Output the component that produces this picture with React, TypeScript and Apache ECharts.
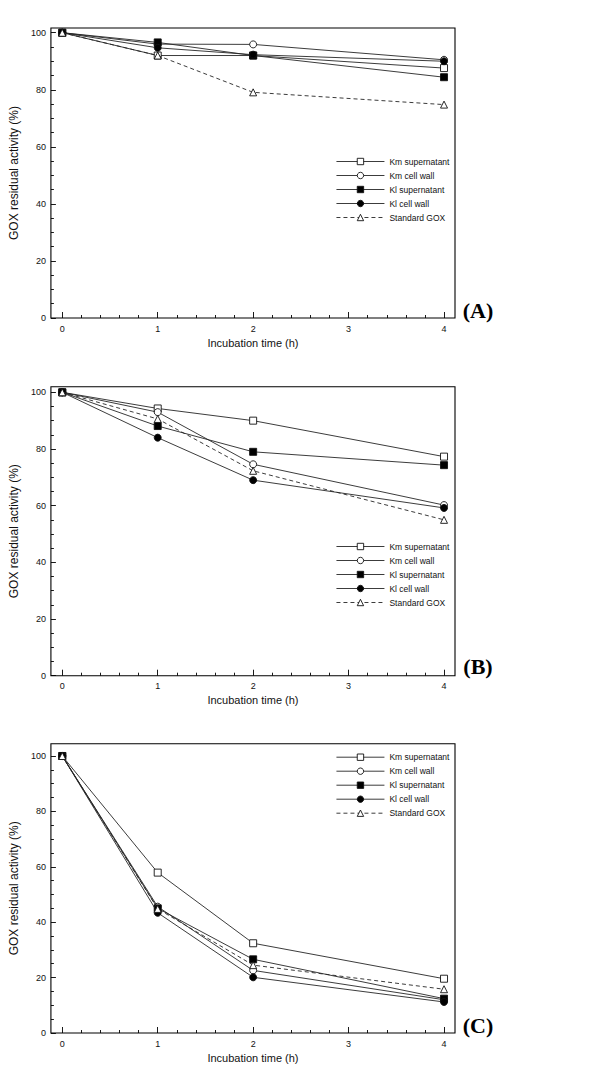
import React, { useEffect, useRef } from "react";
import * as echarts from "echarts";

// ---- data ----
const hours = [0, 1, 2, 4];
const seriesNames = ["Km supernatant", "Km cell wall", "Kl supernatant", "Kl cell wall", "Standard GOX"];
const xTitle = "Incubation time (h)";
const yTitle = "GOX residual activity (%)";
const panelLabels = ["(A)", "(B)", "(C)"];

const xMajorTicks = [0, 1, 2, 3, 4];
const xMinorTicks = [0.2, 0.4, 0.6, 0.8, 1.2, 1.4, 1.6, 1.8, 2.2, 2.4, 2.6, 2.8, 3.2, 3.4, 3.6, 3.8];
const yMajorTicks = [0, 20, 40, 60, 80, 100];
const yMinorTicks = [5, 10, 15, 25, 30, 35, 45, 50, 55, 65, 70, 75, 85, 90, 95];

// Panel A
const kmSupA = [100, 92, 92, 87.6];
const kmWallA = [100, 96, 95.9, 90.5];
const klSupA = [100, 96.6, 92, 84.4];
const klWallA = [100, 94.7, 92.3, 90];
const stdA = [100, 92, 79.1, 74.8];

// Panel B
const kmSupB = [100, 94.3, 90, 77.3];
const kmWallB = [100, 93, 74.6, 60.2];
const klSupB = [100, 88.1, 79, 74.3];
const klWallB = [100, 84, 69, 59.2];
const stdB = [100, 90.6, 72.3, 55];

// Panel C
const kmSupC = [100, 57.9, 32.4, 19.6];
const kmWallC = [100, 45.6, 22.6, 12];
const klSupC = [100, 45, 26.6, 12.4];
const klWallC = [100, 43.4, 20.1, 11.2];
const stdC = [100, 44.8, 24.5, 15.8];

const panelData = [
  [kmSupA, kmWallA, klSupA, klWallA, stdA],
  [kmSupB, kmWallB, klSupB, klWallB, stdB],
  [kmSupC, kmWallC, klSupC, klWallC, stdC],
];

// axis extents (the frame is a bit larger than the data range)
const xMin = -0.119;
const xMax = 4.115;
const yMaxes = [101.65, 101.98, 104.44];

// ---- layout (pixels) ----
const layout = [
  { top: 28, bottom: 318, legendTop: 157, labelY: 310 },
  { top: 386.7, bottom: 675.7, legendTop: 542, labelY: 666.7 },
  { top: 743.7, bottom: 1033, legendTop: 752.7, labelY: 1025 },
];
const boxLeft = 40;
const boxRight = 455;

const FONT = "Liberation Sans, Arial, Helvetica, sans-serif";
const LINE = "#262626";

const styles = [
  { symbol: "rect", fill: "#ffffff", dashed: false },
  { symbol: "circle", fill: "#ffffff", dashed: false },
  { symbol: "rect", fill: "#000000", dashed: false },
  { symbol: "circle", fill: "#000000", dashed: false },
  { symbol: "triangle", fill: "#ffffff", dashed: true },
];

export default function App() {
  const ref = useRef<HTMLDivElement>(null);
  useEffect(() => {
    if (!ref.current) return;
    const chart = echarts.init(ref.current, null, { renderer: "svg" });

    const grid: any[] = [];
    const xAxis: any[] = [];
    const yAxis: any[] = [];
    const series: any[] = [];
    const legend: any[] = [];
    const graphic: any[] = [];

    const tickLine = { color: "#000", width: 0.9 };
    const noLine = { show: false, onZero: false };

    layout.forEach((L, i) => {
      grid.push({
        left: boxLeft,
        top: L.top,
        width: boxRight - boxLeft,
        height: L.bottom - L.top,
        show: true,
        borderColor: "#000",
        borderWidth: 1.1,
        backgroundColor: "transparent",
      });
      // main x axis (labels + major ticks)
      xAxis.push({
        gridIndex: i,
        type: "value",
        position: "bottom",
        min: xMin,
        max: xMax,
        axisLine: noLine,
        axisTick: { show: true, inside: true, length: 6, lineStyle: tickLine, customValues: xMajorTicks },
        splitLine: { show: false },
        axisLabel: { fontSize: 9, margin: 6, color: "#111", fontFamily: FONT, customValues: xMajorTicks },
        name: xTitle,
        nameLocation: "middle",
        nameGap: 19,
        nameTextStyle: { fontSize: 11, color: "#111", fontFamily: FONT },
      });
      // minor x ticks
      xAxis.push({
        gridIndex: i,
        type: "value",
        position: "bottom",
        offset: 0,
        min: xMin,
        max: xMax,
        axisLine: noLine,
        axisTick: { show: true, inside: true, length: 3, lineStyle: tickLine, customValues: xMinorTicks },
        splitLine: { show: false },
        axisLabel: { show: false },
      });
      yAxis.push({
        gridIndex: i,
        type: "value",
        position: "left",
        min: 0,
        max: yMaxes[i],
        axisLine: noLine,
        axisTick: { show: true, inside: true, length: 5, lineStyle: tickLine, customValues: yMajorTicks },
        splitLine: { show: false },
        axisLabel: { fontSize: 9, margin: 5, color: "#111", fontFamily: FONT, customValues: yMajorTicks },
        name: yTitle,
        nameLocation: "middle",
        nameGap: 21,
        nameTextStyle: { fontSize: 12, color: "#111", fontFamily: FONT },
      });
      yAxis.push({
        gridIndex: i,
        type: "value",
        position: "left",
        offset: 0,
        min: 0,
        max: yMaxes[i],
        axisLine: noLine,
        axisTick: { show: true, inside: true, length: 3, lineStyle: tickLine, customValues: yMinorTicks },
        splitLine: { show: false },
        axisLabel: { show: false },
      });
      panelData[i].forEach((vals, s) => {
        const st = styles[s];
        series.push({
          type: "line",
          name: seriesNames[s],
          xAxisIndex: 2 * i,
          yAxisIndex: 2 * i,
          data: hours.map((h, k) => [h, vals[k]]),
          symbol: st.symbol,
          symbolSize: 7,
          showAllSymbol: true,
          lineStyle: { color: LINE, width: 0.9, type: st.dashed ? [4, 3] : "solid" },
          itemStyle: { color: st.fill, borderColor: "#111", borderWidth: 0.9 },
          emphasis: { disabled: true },
          z: 3 + s,
        });
      });
      legend.push({
        orient: "vertical",
        left: 336,
        top: L.legendTop,
        itemWidth: 48,
        itemHeight: 8,
        itemGap: 5,
        padding: 0,
        selectedMode: false,
        lineStyle: { width: 0.9 },
        itemStyle: { borderWidth: 0.9 },
        textStyle: { fontSize: 8.5, color: "#111", fontFamily: FONT },
        data: seriesNames,
      });
      graphic.push({
        type: "text",
        x: 478,
        y: L.labelY,
        style: {
          text: panelLabels[i],
          fontSize: 22,
          fontWeight: "bold",
          fontFamily: "Liberation Serif, Times New Roman, serif",
          fill: "#000",
          align: "center",
          verticalAlign: "middle",
        },
      });
    });

    chart.setOption({
      animation: false,
      backgroundColor: "#ffffff",
      grid,
      xAxis,
      yAxis,
      series,
      legend,
      graphic,
    });
    return () => chart.dispose();
  }, []);
  return (
    <div
      ref={ref}
      style={{ position: "absolute", left: 0, top: 0, width: 600, height: 1072 }}
    />
  );
}
